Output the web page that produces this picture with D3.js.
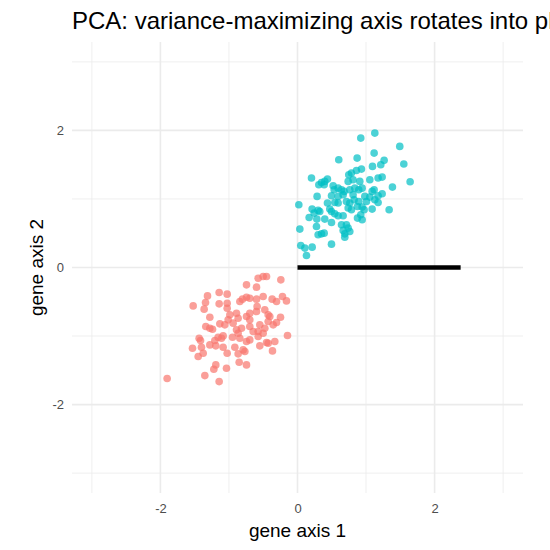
<!DOCTYPE html>
<html>
<head>
<meta charset="utf-8">
<script src="https://cdn.jsdelivr.net/npm/d3@7"></script>
<style>
  body { margin: 0; background: #fff; }
  text { font-family: "Liberation Sans", Arial, sans-serif; }
</style>
</head>
<body>
<div id="chart"></div>
<script>
// red cluster (gene axis 1, gene axis 2)
var redX = [-0.574,-0.501,-0.452,-0.243,-0.744,-0.598,-1.313,-1.143,-1.026,-1.522,-1.342,-1.143,-1.026,-1.362,-0.841,-0.803,-0.744,-0.696,-0.598,-0.501,-0.370,-0.306,-0.219,-0.161,-0.589,-0.696,-0.598,-1.026,-0.890,-0.987,-1.012,-0.866,-0.744,-0.696,-0.477,-0.428,-0.404,-0.248,-0.306,-0.355,-0.428,-1.279,-1.338,-1.279,-1.240,-1.133,-1.060,-0.939,-0.890,-0.866,-0.817,-0.696,-0.647,-0.574,-0.501,-0.550,-0.477,-1.435,-1.415,-1.206,-1.158,-1.109,-1.085,-0.948,-0.841,-0.744,-0.696,-0.574,-1.532,-1.401,-1.279,-1.192,-1.085,-0.914,-0.793,-0.768,-0.550,-0.452,-0.331,-0.428,-0.146,-1.449,-1.376,-1.026,-0.866,-0.365,-0.851,-0.744,-1.192,-1.221,-1.036,-1.352,-1.143,-1.902];
var redY = [-0.156,-0.131,-0.131,-0.180,-0.253,-0.287,-0.414,-0.365,-0.389,-0.560,-0.511,-0.530,-0.521,-0.608,-0.496,-0.462,-0.433,-0.448,-0.462,-0.423,-0.462,-0.496,-0.423,-0.487,-0.569,-0.667,-0.642,-0.594,-0.667,-0.691,-0.764,-0.740,-0.715,-0.764,-0.618,-0.691,-0.715,-0.725,-0.803,-0.837,-0.788,-0.725,-0.861,-0.886,-0.900,-0.822,-0.837,-0.812,-0.910,-0.959,-0.886,-0.861,-0.934,-0.934,-0.959,-0.837,-0.886,-1.032,-1.066,-1.066,-1.017,-1.032,-0.998,-1.017,-1.032,-1.080,-1.056,-1.007,-1.178,-1.163,-1.129,-1.143,-1.163,-1.163,-1.202,-1.226,-1.143,-1.095,-1.080,-1.105,-0.993,-1.299,-1.251,-1.251,-1.260,-1.217,-1.382,-1.421,-1.421,-1.484,-1.470,-1.577,-1.665,-1.620];

// teal cluster
var tealX = [1.128,0.923,1.492,1.118,0.602,0.870,1.264,1.215,1.094,1.551,0.933,0.860,0.787,0.748,0.204,0.350,0.398,0.437,0.311,0.389,0.739,0.811,0.909,1.055,1.176,1.235,1.643,0.520,0.593,0.535,0.642,0.680,0.763,0.836,0.894,0.943,1.385,1.118,1.089,1.235,0.286,0.496,0.593,0.666,0.811,0.982,1.055,1.176,1.128,0.437,0.544,0.593,0.714,0.763,0.826,0.894,1.006,1.176,0.019,0.213,0.301,0.325,0.243,0.471,0.496,0.544,0.593,0.666,0.739,0.787,0.875,0.943,0.972,1.089,1.337,0.170,0.282,0.398,0.496,0.875,0.943,0.923,0.277,0.642,0.714,0.739,0.666,0.763,0.034,0.301,0.350,0.389,0.690,0.690,0.496,0.048,0.107,0.214,0.131];
var tealY = [1.961,1.888,1.767,1.669,1.572,1.596,1.563,1.499,1.475,1.509,1.436,1.416,1.378,1.353,1.305,1.241,1.256,1.290,1.207,1.207,1.256,1.280,1.256,1.280,1.305,1.319,1.251,1.192,1.158,1.134,1.134,1.110,1.134,1.158,1.134,1.158,1.173,1.134,1.110,1.076,1.037,1.046,1.037,1.061,1.061,1.037,1.027,1.046,0.988,0.940,0.949,0.940,0.964,0.940,0.988,0.964,0.964,0.949,0.915,0.852,0.833,0.818,0.794,0.852,0.818,0.784,0.755,0.755,0.867,0.842,0.891,0.881,0.842,0.852,0.842,0.730,0.706,0.706,0.657,0.721,0.696,0.769,0.599,0.623,0.623,0.575,0.541,0.526,0.560,0.477,0.491,0.501,0.491,0.443,0.341,0.322,0.283,0.297,0.175];

// the variance axis segment
var axisSeg = [[0, 0], [2.38, 0]];

var majorTicks = [-2, 0, 2];
var minorTicks = [-3, -1, 1, 3];

var width = 550, height = 550;
var panel = { left: 72, right: 523, top: 42, bottom: 493 };

var svg = d3.select("#chart").append("svg")
  .attr("width", width)
  .attr("height", height);

var xScale = d3.scaleLinear().domain([-3.29, 3.29]).range([panel.left, panel.right]);
var yScale = d3.scaleLinear().domain([-3.29, 3.29]).range([panel.bottom, panel.top]);

// grid
var grid = svg.append("g");
grid.selectAll(".vminor").data(minorTicks).enter().append("line")
  .attr("x1", function(d) { return xScale(d); }).attr("x2", function(d) { return xScale(d); })
  .attr("y1", panel.top).attr("y2", panel.bottom)
  .attr("stroke", "#ebebeb").attr("stroke-width", 0.8);
grid.selectAll(".hminor").data(minorTicks).enter().append("line")
  .attr("y1", function(d) { return yScale(d); }).attr("y2", function(d) { return yScale(d); })
  .attr("x1", panel.left).attr("x2", panel.right)
  .attr("stroke", "#ebebeb").attr("stroke-width", 0.8);
grid.selectAll(".vmajor").data(majorTicks).enter().append("line")
  .attr("x1", function(d) { return xScale(d); }).attr("x2", function(d) { return xScale(d); })
  .attr("y1", panel.top).attr("y2", panel.bottom)
  .attr("stroke", "#ebebeb").attr("stroke-width", 1.6);
grid.selectAll(".hmajor").data(majorTicks).enter().append("line")
  .attr("y1", function(d) { return yScale(d); }).attr("y2", function(d) { return yScale(d); })
  .attr("x1", panel.left).attr("x2", panel.right)
  .attr("stroke", "#ebebeb").attr("stroke-width", 1.6);

// axes (labels only, theme_minimal has no axis lines)
var plain = function(d) { return String(d); };
var xAxis = svg.append("g")
  .attr("transform", "translate(0," + (panel.bottom + 6) + ")")
  .call(d3.axisBottom(xScale).tickValues(majorTicks).tickSize(0).tickPadding(5).tickFormat(plain));
var yAxis = svg.append("g")
  .attr("transform", "translate(" + (panel.left - 3) + ",0)")
  .call(d3.axisLeft(yScale).tickValues(majorTicks).tickSize(0).tickPadding(5).tickFormat(plain));
svg.selectAll(".domain").remove();
svg.selectAll(".tick text")
  .attr("fill", "#4d4d4d")
  .style("font-size", "13px")
  .style("font-family", "'Liberation Sans', Arial, sans-serif");

// points
var red = redX.map(function(d, i) { return [d, redY[i]]; });
var teal = tealX.map(function(d, i) { return [d, tealY[i]]; });

svg.append("g").selectAll("circle")
  .data(red).enter().append("circle")
  .attr("cx", function(d) { return xScale(d[0]); })
  .attr("cy", function(d) { return yScale(d[1]); })
  .attr("r", 3.8)
  .attr("fill", "#F8766D")
  .attr("fill-opacity", 0.7);

svg.append("g").selectAll("circle")
  .data(teal).enter().append("circle")
  .attr("cx", function(d) { return xScale(d[0]); })
  .attr("cy", function(d) { return yScale(d[1]); })
  .attr("r", 3.8)
  .attr("fill", "#00BFC4")
  .attr("fill-opacity", 0.7);

// black segment
svg.append("path")
  .datum(axisSeg)
  .attr("d", d3.line().x(function(d) { return xScale(d[0]); }).y(function(d) { return yScale(d[1]); }))
  .attr("stroke", "#000")
  .attr("stroke-width", 4.3)
  .attr("fill", "none");

// titles (the title runs past the right edge in the original too)
svg.append("text")
  .attr("x", panel.left)
  .attr("y", 29)
  .style("font-size", "24px")
  .attr("fill", "#000")
  .text("PCA: variance-maximizing axis rotates into plane");

svg.append("text")
  .attr("x", (panel.left + panel.right) / 2)
  .attr("y", 537)
  .attr("text-anchor", "middle")
  .style("font-size", "19px")
  .attr("fill", "#000")
  .text("gene axis 1");

svg.append("text")
  .attr("transform", "translate(43," + ((panel.top + panel.bottom) / 2) + ") rotate(-90)")
  .attr("text-anchor", "middle")
  .style("font-size", "19px")
  .attr("fill", "#000")
  .text("gene axis 2");
</script>
</body>
</html>
